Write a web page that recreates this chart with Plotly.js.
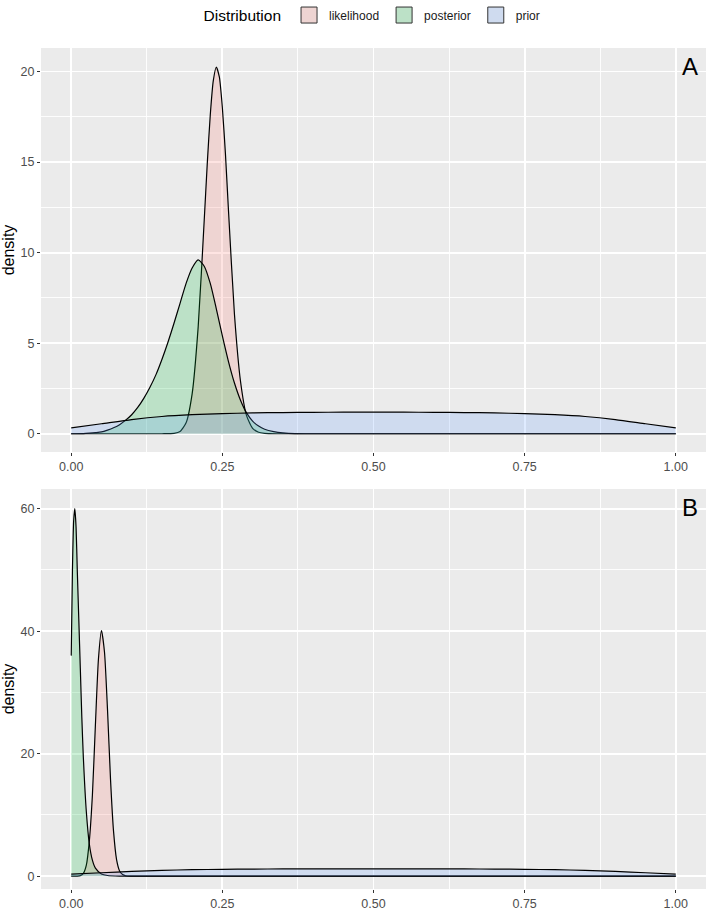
<!DOCTYPE html>
<html>
<head>
<meta charset="utf-8">
<script src="https://cdn.plot.ly/plotly-3.0.1.min.js"></script>
<style>
  body { margin: 0; background: #fff; }
  #chart { width: 707px; height: 911px; }
</style>
</head>
<body>
<div id="chart"></div>
<script>
// prior is the same broad curve in both panels
var priorX = [0, 0.05, 0.1, 0.15, 0.2, 0.25, 0.3, 0.35, 0.4, 0.45, 0.5,
              0.55, 0.6, 0.65, 0.7, 0.75, 0.8, 0.85, 0.9, 0.95, 1];
var priorY = [0.32, 0.55, 0.78, 0.95, 1.05, 1.11, 1.15, 1.17, 1.18, 1.19, 1.19,
              1.19, 1.18, 1.17, 1.15, 1.11, 1.05, 0.95, 0.78, 0.55, 0.32];

// panel A
var likeAX = [0, 0.15, 0.17, 0.18, 0.19, 0.2, 0.21, 0.22, 0.225, 0.23, 0.235, 0.24, 0.245,
              0.25, 0.255, 0.26, 0.27, 0.28, 0.29, 0.3, 0.31, 0.32, 0.34, 0.36, 1];
var likeAY = [0, 0, 0.02, 0.12, 0.6, 2.2, 5.9, 11.8, 14.9, 17.6, 19.5, 20.25, 19.7,
              18.0, 15.5, 12.4, 6.6, 2.9, 1.0, 0.3, 0.08, 0.02, 0, 0, 0];

var postAX = [0, 0.02, 0.03, 0.04, 0.05, 0.06, 0.07, 0.08, 0.09, 0.1, 0.11, 0.12, 0.13, 0.14,
              0.15, 0.16, 0.17, 0.18, 0.19, 0.2, 0.21, 0.22, 0.23, 0.24, 0.25, 0.26, 0.27,
              0.28, 0.29, 0.3, 0.31, 0.32, 0.335, 0.35, 0.37, 0.4, 1];
var postAY = [0, 0.01, 0.03, 0.06, 0.1, 0.2, 0.33, 0.5, 0.75, 1.05, 1.45, 1.95, 2.55, 3.25,
              4.1, 5.05, 6.1, 7.2, 8.3, 9.15, 9.6, 9.25, 8.3, 6.9, 5.4, 4.0, 2.8,
              1.85, 1.15, 0.7, 0.42, 0.25, 0.12, 0.05, 0.01, 0, 0];

// panel B
var likeBX = [0, 0.01, 0.015, 0.02, 0.025, 0.03, 0.035, 0.04, 0.045, 0.05, 0.055, 0.06,
              0.065, 0.07, 0.075, 0.08, 0.085, 0.09, 0.1, 1];
var likeBY = [0, 0, 0.08, 0.45, 1.8, 5.8, 13.2, 24.7, 35.4, 40.1, 36.6, 27.2,
              15.8, 7.3, 2.7, 0.85, 0.25, 0.06, 0.01, 0];

var postBX = [0, 0.002, 0.004, 0.006, 0.008, 0.01, 0.0125, 0.015, 0.0175, 0.02, 0.025,
              0.03, 0.035, 0.04, 0.05, 0.06, 0.08, 0.1, 1];
var postBY = [36, 50, 58, 60, 57, 50, 42, 34, 26, 19.5, 10.5,
              5.2, 2.6, 1.3, 0.35, 0.1, 0.01, 0, 0];

var names = ['likelihood', 'posterior', 'prior'];
var fills = ['rgba(248,118,109,0.2)', 'rgba(0,186,56,0.2)', 'rgba(97,156,255,0.2)'];
var keyColors = ['#EED4D2', '#BCE1C7', '#CFDBEF'];

function area(x, y, i, xa, ya) {
  return {
    type: 'scatter', mode: 'lines', x: x, y: y, xaxis: xa, yaxis: ya,
    fill: 'tozeroy', fillcolor: fills[i],
    line: {color: '#000', width: 1.2, shape: 'spline', smoothing: 0.6},
    name: names[i], showlegend: false, hoverinfo: 'skip'
  };
}

var data = [
  area(likeAX, likeAY, 0, 'x', 'y'),
  area(postAX, postAY, 1, 'x', 'y'),
  area(priorX, priorY, 2, 'x', 'y'),
  area(likeBX, likeBY, 0, 'x2', 'y2'),
  area(postBX, postBY, 1, 'x2', 'y2'),
  area(priorX, priorY, 2, 'x2', 'y2')
];

// legend keys only
names.forEach(function(n, i) {
  data.push({
    type: 'scatter', mode: 'markers', x: [null], y: [null], name: n,
    marker: {symbol: 'square', size: 16, color: keyColors[i], line: {color: '#333', width: 1}}
  });
});

var tickFont = {size: 12.5, color: '#4D4D4D'};
function xAxis(anchor) {
  return {
    anchor: anchor, domain: [0, 1], range: [-0.05, 1.05],
    tick0: 0, dtick: 0.25, tickformat: '.2f',
    ticks: 'outside', ticklen: 3, tickcolor: '#333', tickfont: tickFont,
    showgrid: true, gridcolor: '#fff', gridwidth: 1.8, zeroline: false, showline: false,
    minor: {tick0: 0, dtick: 0.125, showgrid: true, gridcolor: '#fff', gridwidth: 0.9}
  };
}
function yAxis(anchor, domain, range, dtick) {
  return {
    anchor: anchor, domain: domain, range: range,
    tick0: 0, dtick: dtick,
    ticks: 'outside', ticklen: 3, tickcolor: '#333', tickfont: tickFont,
    showgrid: true, gridcolor: '#fff', gridwidth: 1.8, zeroline: false, showline: false,
    minor: {tick0: 0, dtick: dtick / 2, showgrid: true, gridcolor: '#fff', gridwidth: 0.9},
    title: {text: 'density', font: {size: 16, color: '#000'}, standoff: 4}
  };
}

var layout = {
  width: 707, height: 911,
  margin: {l: 41, r: 1, t: 48, b: 22},
  paper_bgcolor: '#fff', plot_bgcolor: '#EBEBEB',
  font: {family: 'Liberation Sans, Arial, sans-serif', color: '#000'},
  xaxis: xAxis('y'),
  yaxis: yAxis('x', [0.5196, 1], [-1.01, 21.3], 5),
  xaxis2: xAxis('y2'),
  yaxis2: yAxis('x2', [0, 0.4756], [-2.1, 63.2], 20),
  showlegend: true,
  legend: {
    orientation: 'h', x: 0.5, xanchor: 'center', y: 1.038, yanchor: 'middle',
    title: {text: 'Distribution', side: 'left', font: {size: 15.5, color: '#000'}},
    font: {size: 12, color: '#1a1a1a'}, bgcolor: 'rgba(0,0,0,0)'
  },
  annotations: [
    {text: 'A', xref: 'paper', yref: 'paper', x: 0.991, y: 0.978, xanchor: 'right', yanchor: 'middle',
     showarrow: false, font: {size: 24, color: '#000'}},
    {text: 'B', xref: 'paper', yref: 'paper', x: 0.991, y: 0.4542, xanchor: 'right', yanchor: 'middle',
     showarrow: false, font: {size: 24, color: '#000'}}
  ]
};

Plotly.newPlot('chart', data, layout, {displayModeBar: false, staticPlot: true});
</script>
</body>
</html>
